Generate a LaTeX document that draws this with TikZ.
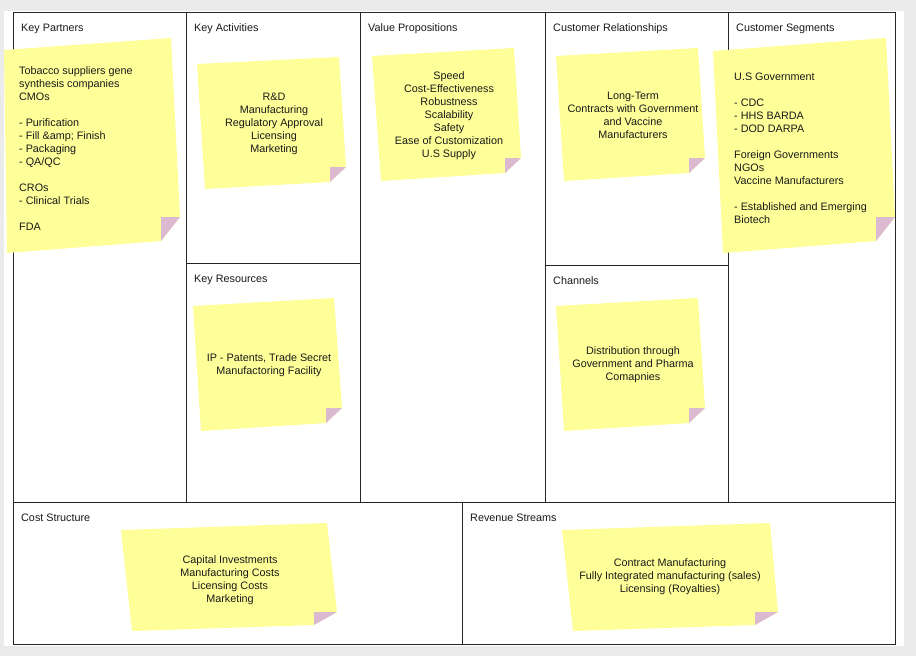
\documentclass[tikz,border=0pt]{standalone}
\usepackage{fontspec}
\setmainfont{Liberation Sans}
\usetikzlibrary{calc}
\definecolor{notey}{HTML}{FFFF99}
\definecolor{notefold}{HTML}{DBB9D1}
\definecolor{pagegrey}{HTML}{EBEBEB}

\begin{document}
\begin{tikzpicture}[x=1pt,y=-1pt,inner sep=0pt,
  every node/.style={font=\fontsize{10.8}{13}\selectfont,text=black!90},
  cellhead/.style={anchor=base west},
  notetext/.style={align=center},
  notelist/.style={anchor=west,align=left},
  grid/.style={draw=black!85,line width=0.9pt}]
% sticky note: name, top left, top right, fold start, fold end, bottom left
\def\sticky#1#2#3#4#5#6{
  \coordinate (#1tl) at (#2);
  \coordinate (#1tr) at (#3);
  \coordinate (#1fs) at (#4);
  \coordinate (#1fb) at (#5);
  \coordinate (#1bl) at (#6);
  \fill[notey] (#1tl) -- (#1tr) -- (#1fs) -- (#1fb) -- (#1bl) -- cycle;
  \fill[notefold] (#1fs) -- (#1fb) -- (#1fb |- #1fs) -- cycle;
}
\useasboundingbox (0,0) rectangle (916,656);
\fill[pagegrey] (0,0) rectangle (916,656);
\fill[white] (4,11) rectangle (904,646);

% canvas grid
\draw[grid] (13,12) rectangle (895,644);
\draw[grid] (13,502) -- (895,502);
\draw[grid] (186,12) -- (186,502);
\draw[grid] (360,12) -- (360,502);
\draw[grid] (545,12) -- (545,502);
\draw[grid] (728,12) -- (728,502);
\draw[grid] (186,263) -- (360,263);
\draw[grid] (545,265) -- (728,265);
\draw[grid] (462,502) -- (462,644);

% headings
\node[cellhead] (hkp) at (21,31) {Key Partners};
\node[cellhead] (hka) at (194,31) {Key Activities};
\node[cellhead] (hvp) at (368,31) {Value Propositions};
\node[cellhead] (hcr) at (553,31) {Customer Relationships};
\node[cellhead] (hcs) at (736,31) {Customer Segments};
\node[cellhead] (hkr) at (194,282) {Key Resources};
\node[cellhead] (hch) at (553,284) {Channels};
\node[cellhead] (hco) at (21,521) {Cost Structure};
\node[cellhead] (hrs) at (470,521) {Revenue Streams};

% notes
\sticky{kp}{4,50}{171,38}{180,217}{161,241}{7,253}
\sticky{ka}{197,64}{339,57}{346,167}{330,182}{205,189}
\sticky{vp}{372,56}{514,48}{521,158}{505,173}{381,181}
\sticky{cr}{556,56}{698,48}{705,158}{689,173}{564,181}
\sticky{cs}{713,51}{886,38}{895,217}{876,241}{723,253}
\sticky{kr}{193,306}{334,298}{342,408}{326,423}{201,431}
\sticky{ch}{556,306}{698,298}{705,408}{689,423}{564,431}
\sticky{co}{121,530}{327,523}{337,612}{314,625}{132,631}
\sticky{rs}{562,530}{770,523}{778,612}{755,625}{573,631}

\node[notelist] (tkp) at (19,149) {Tobacco suppliers gene\\ synthesis companies\\ CMOs\\[13pt]
  - Purification\\ - Fill \&amp; Finish\\ - Packaging\\ - QA/QC\\[13pt]
  CROs\\ - Clinical Trials\\[13pt] FDA};
\node[notetext] (tka) at (274,124) {R\&D\\ Manufacturing\\ Regulatory Approval\\ Licensing\\ Marketing};
\node[notetext] (tvp) at (449,116) {Speed\\ Cost-Effectiveness\\ Robustness\\ Scalability\\ Safety\\ Ease of Customization\\ U.S Supply};
\node[notetext] (tcr) at (633,115) {Long-Term\\ Contracts with Government\\ and Vaccine\\ Manufacturers};
\node[notelist] (tcs) at (734,148) {U.S Government\\[13pt] - CDC\\ - HHS BARDA\\ - DOD DARPA\\[13pt]
  Foreign Governments\\ NGOs\\ Vaccine Manufacturers\\[13pt]
  - Established and Emerging\\ Biotech};
\node[notetext] (tkr) at (269,365) {IP - Patents, Trade Secret\\ Manufactoring Facility};
\node[notetext] (tch) at (633,365) {Distribution through\\ Government and Pharma\\ Comapnies};
\node[notetext] (tco) at (230,580) {Capital Investments\\ Manufacturing Costs\\ Licensing Costs\\ Marketing};
\node[notetext] (trs) at (670,577) {Contract Manufacturing\\ Fully Integrated manufacturing (sales)\\ Licensing (Royalties)};
\end{tikzpicture}
\end{document}
